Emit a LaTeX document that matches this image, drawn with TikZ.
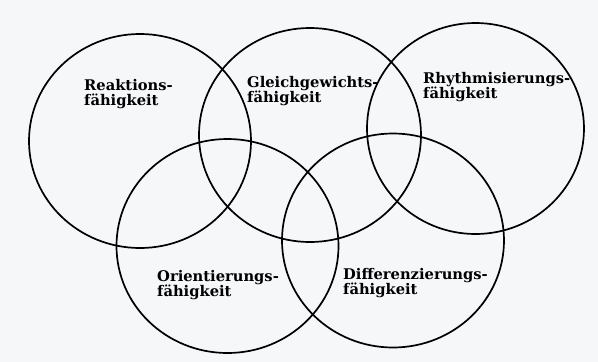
\documentclass[tikz,border=0pt]{standalone}
\usepackage{fontspec}
\setmainfont{DejaVu Serif}
\usetikzlibrary{shapes.geometric}
\definecolor{paper}{RGB}{246,247,249}

\begin{document}
\begin{tikzpicture}[
  x=1pt,y=-1pt,
  ring/.style={draw,ellipse,line width=1.7pt,minimum width=222pt,minimum height=214pt,inner sep=0pt},
  lbl/.style={anchor=base west,align=left,inner sep=0pt,font=\bfseries\fontsize{14.7}{15}\selectfont}
]
  \fill[paper] (0,0) rectangle (598,362);
  \useasboundingbox (0,0) rectangle (598,362);
  % rings
  \node[ring] (reak) at (140,141) {};
  \node[ring] (gleich) at (310,135) {};
  \node[ring,minimum width=217pt,minimum height=211pt] (rhythm) at (475.5,128.5) {};
  \node[ring] (orient) at (227.5,246) {};
  \node[ring] (diff) at (393,240.5) {};
  % labels (base = second line)
  \node[lbl] (reaklbl) at (84,105) {Reaktions-\\fähigkeit};
  \node[lbl] (gleichlbl) at (247,102) {Gleichgewichts-\\fähigkeit};
  \node[lbl] (rhythmlbl) at (423,98) {Rhythmisierungs-\\fähigkeit};
  \node[lbl] (orientlbl) at (157,296) {Orientierungs-\\fähigkeit};
  \node[lbl] (difflbl) at (343,294) {Differenzierungs-\\fähigkeit};
\end{tikzpicture}
\end{document}
